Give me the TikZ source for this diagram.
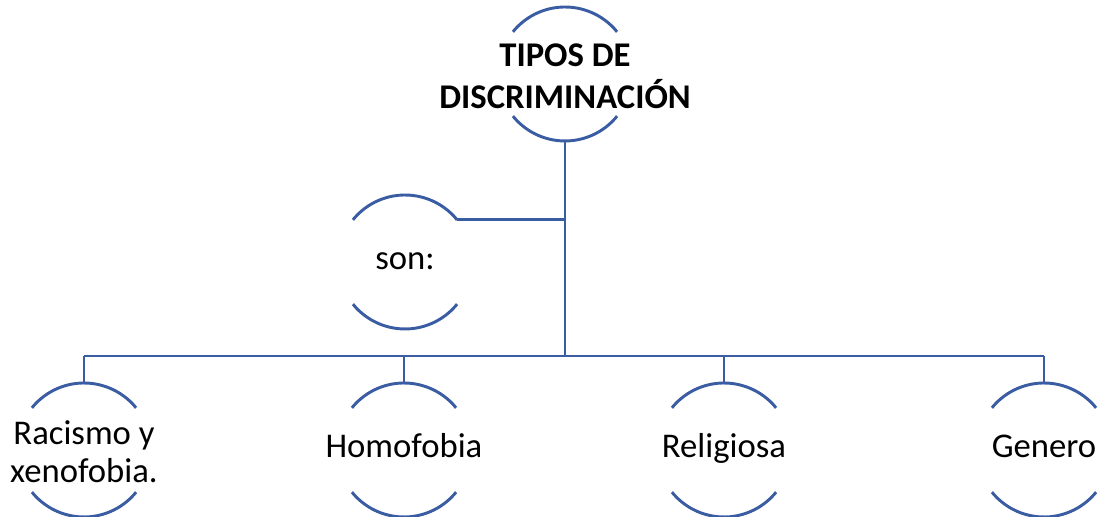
\documentclass[tikz,border=0pt]{standalone}
\usepackage{fontspec}
\setmainfont{Carlito}
\definecolor{linea}{RGB}{58,92,162}
\begin{document}
\begin{tikzpicture}[x=0.75pt,y=0.75pt,
  texto/.style={align=center,inner sep=0pt,font=\fontsize{26}{29}\selectfont},
  tema/.style={circle,minimum size=100.5pt,inner sep=0pt,outer sep=0pt,label={[texto]center:{\strut#1}}},
  linea/.style={draw=linea,line width=2.2pt}]
\pgfmathsetmacro{\r}{50.25}
\useasboundingbox (0,0) rectangle (1100,517);
\node[tema={\bfseries TIPOS DE\\\bfseries DISCRIMINACIÓN}](raiz) at (565,443) {};
\node[tema={son:}](son) at (405,255) {};
\node[tema={Racismo y\\xenofobia.}](rac) at (84,67) {};
\node[tema={Homofobia}](hom) at (404,67) {};
\node[tema={Religiosa}](rel) at (724,67) {};
\node[tema={Genero}](gen) at (1044,67) {};
\coordinate (bus) at (565,161);
\foreach \n in {raiz,son,rac,hom,rel,gen}{
  \draw[linea](\n.39) arc (39:141:\r pt);
  \draw[linea](\n.219) arc (219:321:\r pt);
}
\draw[linea](raiz.south)--(raiz.south|-bus);
\draw[linea](son.39)--(son.39-|raiz.south);
\draw[linea](rac.north|-bus)--(gen.north|-bus);
\foreach \n in {rac,hom,rel,gen}
  \draw[linea](\n.north)--(\n.north|-bus);
\end{tikzpicture}
\end{document}
